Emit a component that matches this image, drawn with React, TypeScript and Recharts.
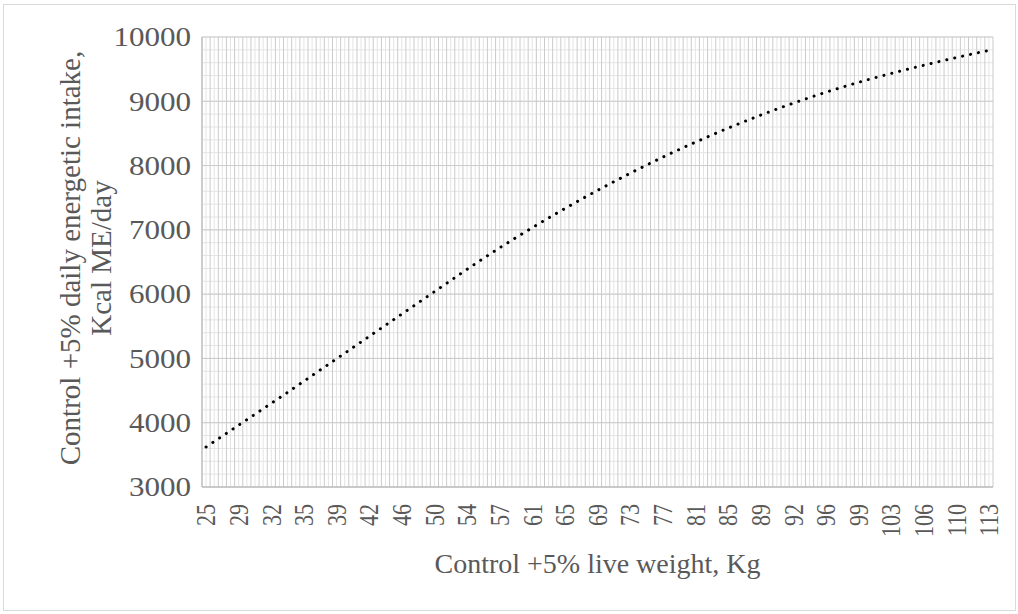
import { LineChart, Line, XAxis, YAxis, CartesianGrid } from "recharts";

// live weight (kg) per category (every 4th one is labelled)
const WEIGHTS = [
  25.0, 25.9, 26.8, 27.7, 28.6, 29.5, 30.4, 31.3, 32.2, 33.0, 33.8, 34.6, 35.4, 36.2, 37.1, 37.9,
  38.8, 39.7, 40.5, 41.4, 42.3, 43.2, 44.1, 45.0, 45.9, 46.8, 47.7, 48.7, 49.6, 50.6, 51.5, 52.5,
  53.5, 54.4, 55.4, 56.3, 57.3, 58.2, 59.2, 60.1, 61.1, 62.1, 63.0, 64.0, 65.0, 65.9, 66.9, 67.8,
  68.8, 69.8, 70.8, 71.7, 72.7, 73.7, 74.7, 75.6, 76.6, 77.6, 78.6, 79.6, 80.6, 81.6, 82.6, 83.6,
  84.6, 85.6, 86.6, 87.6, 88.6, 89.5, 90.5, 91.4, 92.4, 93.3, 94.2, 95.1, 96.0, 96.9, 97.7, 98.6,
  99.4, 100.3, 101.2, 102.1, 103.0, 103.9, 104.7, 105.6, 106.4, 107.3, 108.1, 109.0, 109.8, 110.7,
  111.5, 112.4, 113.2,
];

// daily energetic intake, Kcal ME/day
const INTAKE = [
  3622, 3707, 3792, 3877, 3962, 4047, 4132, 4217, 4302, 4387, 4472, 4559, 4646, 4733, 4820, 4907,
  4994, 5081, 5168, 5255, 5342, 5429, 5516, 5603, 5690, 5777, 5864, 5951, 6038, 6125, 6212, 6299,
  6386, 6471, 6555, 6638, 6720, 6800, 6879, 6957, 7034, 7110, 7185, 7259, 7332, 7404, 7475, 7545,
  7614, 7682, 7749, 7815, 7880, 7944, 8007, 8069, 8130, 8190, 8249, 8307, 8364, 8420, 8475, 8529,
  8582, 8634, 8685, 8735, 8784, 8832, 8879, 8925, 8970, 9014, 9057, 9099, 9140, 9180, 9219, 9257,
  9294, 9330, 9365, 9399, 9432, 9465, 9497, 9529, 9560, 9591, 9621, 9651, 9680, 9709, 9737, 9765,
  9792,
];

const Y_TICKS = [3000, 4000, 5000, 6000, 7000, 8000, 9000, 10000];
const LABEL_EVERY = 4;

const SERIF = "'Liberation Serif', 'Times New Roman', serif";
const TXT = "#595959";

const data = WEIGHTS.map((w, i) => ({ i, weight: w, intake: INTAKE[i] }));
const xTicks = data.filter((d) => d.i % LABEL_EVERY === 0).map((d) => d.i);
const n = WEIGHTS.length;

// gridlines: major at category borders, minor through category centres
const majorV = [...data.map((d) => d.i - 0.5), n - 0.5];
const minorV = data.map((d) => d.i);
const minorH: number[] = [];
for (let v = Y_TICKS[0]; v <= Y_TICKS[Y_TICKS.length - 1]; v += 200) minorH.push(v);

// the source picture is a bit wider than tall, so glyphs get a slight x-stretch
function XTick(props: any) {
  const { x, y, payload } = props;
  return (
    <g transform={`translate(${x} ${y}) scale(1.22 1) rotate(-90)`}>
      <text x={0} y={0} textAnchor="end" dominantBaseline="central" fill={TXT} fontSize={22} fontFamily={SERIF}>
        {Math.round(WEIGHTS[payload.value])}
      </text>
    </g>
  );
}

function YTick(props: any) {
  const { x, y, payload } = props;
  return (
    <g transform={`translate(${x} ${y}) scale(1.15 1)`}>
      <text x={0} y={0} textAnchor="end" dominantBaseline="central" fill={TXT} fontSize={27} fontFamily={SERIF}>
        {payload.value}
      </text>
    </g>
  );
}

function YTitle() {
  const cy = 258;
  return (
    <g fill={TXT} fontSize={29} fontFamily={SERIF}>
      <text x={80} y={cy} transform={`rotate(-90 80 ${cy})`} textAnchor="middle">
        Control +5% daily energetic intake,
      </text>
      <text x={111} y={cy} transform={`rotate(-90 111 ${cy})`} textAnchor="middle">
        Kcal ME/day
      </text>
    </g>
  );
}

export default function App() {
  return (
    <div style={{ position: "absolute", left: 0, top: 0, width: 1018, height: 614, background: "#fff" }}>
      <div
        style={{
          position: "absolute",
          left: 3,
          top: 4,
          width: 1013,
          height: 607,
          border: "1px solid #d9d9d9",
          boxSizing: "border-box",
        }}
      />
      <LineChart
        width={1018}
        height={614}
        data={data}
        margin={{ top: 37, right: 25, bottom: 0, left: 0 }}
        style={{ position: "absolute", left: 0, top: 0 }}
      >
        <CartesianGrid verticalValues={minorV} horizontalValues={minorH} stroke="#e4e4e4" />
        <CartesianGrid verticalValues={majorV} horizontalValues={Y_TICKS} stroke="#cbcbcb" />
        <XAxis
          dataKey="i"
          type="number"
          domain={[-0.5, n - 0.5]}
          ticks={xTicks}
          interval={0}
          tick={<XTick />}
          tickLine={false}
          tickSize={0}
          tickMargin={17}
          height={127}
          axisLine={{ stroke: "#b5b5b5" }}
          label={{
            value: "Control +5% live weight, Kg",
            position: "insideBottom",
            offset: 41,
            fill: TXT,
            fontSize: 28,
            fontFamily: SERIF,
          }}
        />
        <YAxis
          type="number"
          domain={[3000, 10000]}
          ticks={Y_TICKS}
          interval={0}
          width={202}
          tickLine={false}
          tickSize={0}
          tickMargin={11}
          axisLine={{ stroke: "#b5b5b5" }}
          tick={<YTick />}
          label={() => <YTitle />}
        />
        <Line
          dataKey="intake"
          type="linear"
          stroke="#000"
          strokeWidth={3}
          strokeLinecap="round"
          strokeDasharray="0.1 8"
          dot={false}
          isAnimationActive={false}
        />
      </LineChart>
    </div>
  );
}
